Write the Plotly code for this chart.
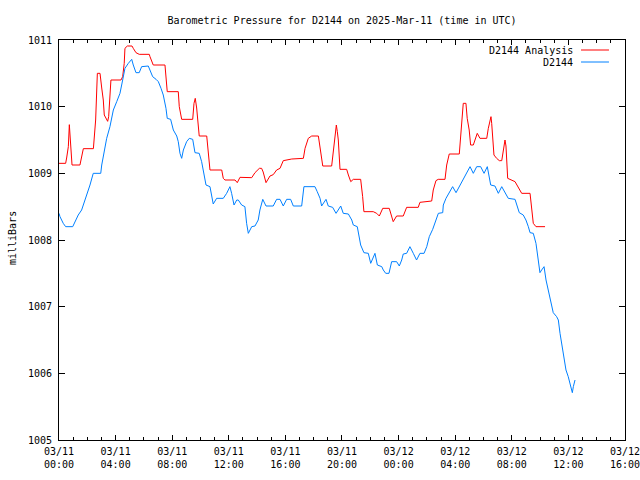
import pandas as pd
import plotly.graph_objects as go

# ---- data (hours after 2025-03-11 00:00 UTC, pressure in mb) ----
analysis_hours = [0, 0.47, 0.54, 0.66, 0.73, 0.83, 0.92, 1.48, 1.6, 1.72, 2.43, 2.5, 2.59, 2.71, 2.9,
                  3.02, 3.13, 3.2, 3.37, 3.44, 3.51, 3.56, 3.67, 4.38, 4.5, 4.61, 4.66, 4.83, 5.16,
                  5.25, 5.44, 5.67, 6.38, 6.43, 6.66, 7.49, 7.56, 7.65, 8.43, 8.5, 8.67, 9.45, 9.54,
                  9.63, 9.73, 9.84, 9.91, 10.44, 10.55, 10.67, 11.5, 11.61, 11.73, 12.44, 12.6, 12.79,
                  13.62, 13.85, 14.16, 14.32, 14.43, 14.63, 14.91, 15.14, 15.38, 15.62, 15.85, 16.09,
                  16.45, 17.27, 17.39, 17.62, 17.86, 18.33, 18.45, 18.64, 19.27, 19.39, 19.51, 19.6,
                  19.67, 19.74, 19.86, 20.33, 20.45, 20.62, 20.8, 21.32, 21.46, 21.55, 22.21, 22.45,
                  22.64, 22.88, 23.34, 23.51, 23.62, 23.86, 24.33, 24.57, 25.39, 25.51, 26.34, 26.45,
                  26.64, 26.8, 27.28, 27.4, 27.58, 28.29, 28.39, 28.5, 28.57, 28.76, 28.85, 28.99,
                  29.09, 29.28, 29.47, 29.56, 29.75, 30.23, 30.34, 30.46, 30.53, 30.58, 30.65, 30.74,
                  30.93, 31.12, 31.29, 31.4, 31.52, 31.59, 31.64, 31.71, 32.23, 32.35, 32.53, 32.7,
                  33.29, 33.41, 33.52, 33.71, 34.35]
analysis_mb = [1009.15, 1009.15, 1009.23, 1009.4, 1009.73, 1009.43, 1009.125, 1009.125, 1009.27,
               1009.37, 1009.37, 1009.53, 1009.8, 1010.5, 1010.5, 1010.28, 1010.1, 1009.875, 1009.8,
               1009.78, 1009.85, 1010.0, 1010.4, 1010.4, 1010.45, 1010.65, 1010.875, 1010.91,
               1010.91, 1010.875, 1010.81, 1010.785, 1010.785, 1010.75, 1010.625, 1010.625,
               1010.45, 1010.225, 1010.225, 1010.0, 1009.81, 1009.81, 1010.05, 1010.125, 1009.98,
               1009.77, 1009.56, 1009.56, 1009.3, 1009.05, 1009.05, 1008.925, 1008.9, 1008.9,
               1008.86, 1008.94, 1008.935, 1009.01, 1009.075, 1009.075, 1009.02, 1008.86, 1008.96,
               1008.98, 1009.05, 1009.075, 1009.19, 1009.2, 1009.215, 1009.225, 1009.375, 1009.525,
               1009.56, 1009.56, 1009.375, 1009.11, 1009.11, 1009.35, 1009.6, 1009.725, 1009.625,
               1009.5, 1009.06, 1009.06, 1008.975, 1008.875, 1008.91, 1008.91, 1008.65, 1008.425,
               1008.425, 1008.4, 1008.36, 1008.475, 1008.475, 1008.325, 1008.275, 1008.36, 1008.36,
               1008.49, 1008.49, 1008.565, 1008.585, 1008.75, 1008.89, 1008.91, 1008.91, 1009.125,
               1009.29, 1009.29, 1009.575, 1009.95, 1010.05, 1010.05, 1009.825, 1009.65, 1009.425,
               1009.425, 1009.525, 1009.6, 1009.525, 1009.525, 1009.675, 1009.8, 1009.85, 1009.75,
               1009.55, 1009.275, 1009.225, 1009.19, 1009.19, 1009.325, 1009.5, 1009.41, 1009.2,
               1008.925, 1008.875, 1008.825, 1008.76, 1008.7, 1008.7, 1008.475, 1008.25, 1008.2,
               1008.2]

obs_hours = [0, 0.07, 0.3, 0.47, 0.97, 1.13, 1.36, 1.6, 1.72, 1.96, 2.19, 2.42, 2.95, 3.02, 3.2, 3.37,
             3.6, 3.84, 4.08, 4.31, 4.5, 4.66, 4.9, 5.14, 5.25, 5.44, 5.67, 5.84, 6.31, 6.43, 6.62,
             6.86, 7.02, 7.21, 7.37, 7.56, 7.65, 7.89, 8.08, 8.32, 8.43, 8.55, 8.67, 8.79, 9.02, 9.21,
             9.45, 9.61, 9.91, 10.08, 10.25, 10.39, 10.67, 10.79, 10.9, 11.14, 11.61, 11.85, 12.08,
             12.2, 12.37, 12.56, 12.67, 12.91, 13.14, 13.26, 13.38, 13.62, 13.85, 14.08, 14.2, 14.4,
             14.63, 15.14, 15.38, 15.62, 15.85, 16.09, 16.37, 16.56, 17.15, 17.31, 18.09, 18.25,
             18.45, 18.56, 18.68, 18.87, 19.03, 19.34, 19.58, 19.74, 19.91, 20.09, 20.45, 20.69,
             20.8, 21.08, 21.22, 21.32, 21.55, 21.86, 22.03, 22.17, 22.33, 22.5, 22.81, 22.92,
             23.09, 23.32, 23.51, 23.86, 24.05, 24.22, 24.33, 24.57, 24.8, 25.04, 25.27, 25.51,
             25.8, 25.99, 26.17, 26.41, 26.57, 26.69, 26.81, 27.12, 27.16, 27.35, 27.58, 27.82,
             28.06, 28.34, 28.57, 28.81, 29.05, 29.28, 29.52, 29.8, 30.04, 30.27, 30.41, 30.51,
             30.81, 31.05, 31.29, 31.52, 31.75, 32.23, 32.35, 32.53, 32.81, 33.0, 33.17, 33.29,
             33.52, 33.71, 33.87, 33.99, 34.11, 34.28, 34.42, 34.58, 34.75, 34.93, 35.17, 35.29,
             35.41, 35.53, 35.69, 35.83, 35.99, 36.11, 36.28, 36.35, 36.47]
obs_mb = [1008.4, 1008.35, 1008.25, 1008.2, 1008.2, 1008.275, 1008.375, 1008.45, 1008.525, 1008.7,
          1008.825, 1009.0, 1009.0, 1009.125, 1009.35, 1009.525, 1009.7, 1009.95, 1010.075, 1010.2,
          1010.4, 1010.575, 1010.65, 1010.71, 1010.625, 1010.51, 1010.51, 1010.6, 1010.61, 1010.55,
          1010.45, 1010.41, 1010.375, 1010.275, 1010.175, 1009.975, 1009.825, 1009.81, 1009.65,
          1009.56, 1009.475, 1009.3, 1009.225, 1009.35, 1009.475, 1009.525, 1009.51, 1009.31,
          1009.3, 1009.175, 1009.0, 1008.825, 1008.8, 1008.675, 1008.54, 1008.625, 1008.625,
          1008.7, 1008.8, 1008.7, 1008.525, 1008.6, 1008.6, 1008.525, 1008.5, 1008.25, 1008.1,
          1008.2, 1008.21, 1008.3, 1008.45, 1008.61, 1008.51, 1008.51, 1008.61, 1008.61, 1008.51,
          1008.61, 1008.61, 1008.51, 1008.51, 1008.8, 1008.8, 1008.725, 1008.625, 1008.51, 1008.55,
          1008.61, 1008.51, 1008.49, 1008.4, 1008.46, 1008.51, 1008.4, 1008.39, 1008.3, 1008.225,
          1008.2, 1008.05, 1007.925, 1007.81, 1007.8, 1007.65, 1007.73, 1007.8, 1007.625, 1007.6,
          1007.55, 1007.5, 1007.5, 1007.675, 1007.675, 1007.61, 1007.7, 1007.79, 1007.8, 1007.9,
          1007.8, 1007.7, 1007.8, 1007.8, 1007.9, 1008.05, 1008.16, 1008.25, 1008.325, 1008.4,
          1008.41, 1008.525, 1008.625, 1008.71, 1008.8, 1008.71, 1008.825, 1008.925, 1009.01,
          1009.1, 1009.0, 1009.1, 1009.1, 1009.0, 1009.1, 1008.95, 1008.825, 1008.81, 1008.7,
          1008.8, 1008.71, 1008.625, 1008.61, 1008.525, 1008.41, 1008.375, 1008.3, 1008.2, 1008.11,
          1008.1, 1007.95, 1007.7, 1007.51, 1007.55, 1007.6, 1007.4, 1007.25, 1007.1, 1006.91,
          1006.85, 1006.8, 1006.6, 1006.425, 1006.25, 1006.05, 1005.95, 1005.85, 1005.71, 1005.8,
          1005.9]

tick_hours = [0, 4, 8, 12, 16, 20, 24, 28, 32, 36, 40]
tick_labels = ["03/11<br>00:00", "03/11<br>04:00", "03/11<br>08:00", "03/11<br>12:00",
               "03/11<br>16:00", "03/11<br>20:00", "03/12<br>00:00", "03/12<br>04:00",
               "03/12<br>08:00", "03/12<br>12:00", "03/12<br>16:00"]
y_ticks = [1005, 1006, 1007, 1008, 1009, 1010, 1011]
series_names = ["D2144 Analysis", "D2144"]
series_colors = ["#ff0000", "#0080ff"]

base = pd.Timestamp("2025-03-11 00:00")
def to_time(hours):
    return [base + pd.Timedelta(hours=h) for h in hours]

FONT = "DejaVu Sans Mono"
W, H = 640, 480

fig = go.Figure()
fig.add_trace(go.Scatter(x=to_time(analysis_hours), y=analysis_mb, mode="lines",
                         name=series_names[0], line=dict(color=series_colors[0], width=1)))
fig.add_trace(go.Scatter(x=to_time(obs_hours), y=obs_mb, mode="lines",
                         name=series_names[1], line=dict(color=series_colors[1], width=1)))

fig.update_layout(
    width=W, height=H,
    margin=dict(l=59, r=15, t=40, b=40, autoexpand=False),
    paper_bgcolor="white", plot_bgcolor="white",
    showlegend=False,
    font=dict(family=FONT, size=10, color="black"),
    title=dict(text="Barometric Pressure for D2144 on 2025-Mar-11 (time in UTC)",
               x=0.5, xref="paper", xanchor="center", y=1 - 20 / H, yanchor="middle",
               font=dict(family=FONT, size=10, color="black")),
)

fig.update_xaxes(
    type="date",
    range=[base, base + pd.Timedelta(hours=40, seconds=5)],
    tickvals=to_time(tick_hours), ticktext=tick_labels,
    ticks="inside", ticklen=5, tickcolor="black", tickwidth=1,
    minor=dict(ticks="inside", ticklen=3, dtick=3600000, tick0=base, tickcolor="black"),
    showline=True, linecolor="black", linewidth=1, mirror="ticks",
    showgrid=False, zeroline=False, automargin=False,
    ticklabeloverflow="allow",
    tickfont=dict(family=FONT, size=10, color="black"),
    ticklabelstandoff=2,
)
fig.update_yaxes(
    range=[1005, 1011], tickvals=y_ticks,
    ticks="inside", ticklen=6, tickcolor="black", tickwidth=1,
    showline=True, linecolor="black", linewidth=1, mirror="ticks",
    showgrid=False, zeroline=False, automargin=False,
    tickfont=dict(family=FONT, size=10, color="black"),
    ticklabelstandoff=4,
)

# y-axis title, placed as in the reference
fig.add_annotation(x=-0.083, y=0.505, xref="paper", yref="paper", text="milliBars",
                   textangle=-90, showarrow=False, xanchor="center", yanchor="middle",
                   font=dict(family=FONT, size=10, color="black"))

# legend drawn at top right in gnuplot style (text then line sample)
legend_y = [0.975, 0.945]
for name, color, ly in zip(series_names, series_colors, legend_y):
    fig.add_annotation(x=0.9117, y=ly, xref="paper", yref="paper", text=name,
                       showarrow=False, xanchor="right", yanchor="middle",
                       font=dict(family=FONT, size=10, color="black"))
    fig.add_shape(type="line", xref="paper", yref="paper", x0=0.9223, x1=0.9717, y0=ly, y1=ly,
                  line=dict(color=color, width=1))

fig.write_html(
    "out.html",
    config={"displayModeBar": False},
    post_script="document.body.style.margin='0';document.body.style.overflow='hidden';",
)
